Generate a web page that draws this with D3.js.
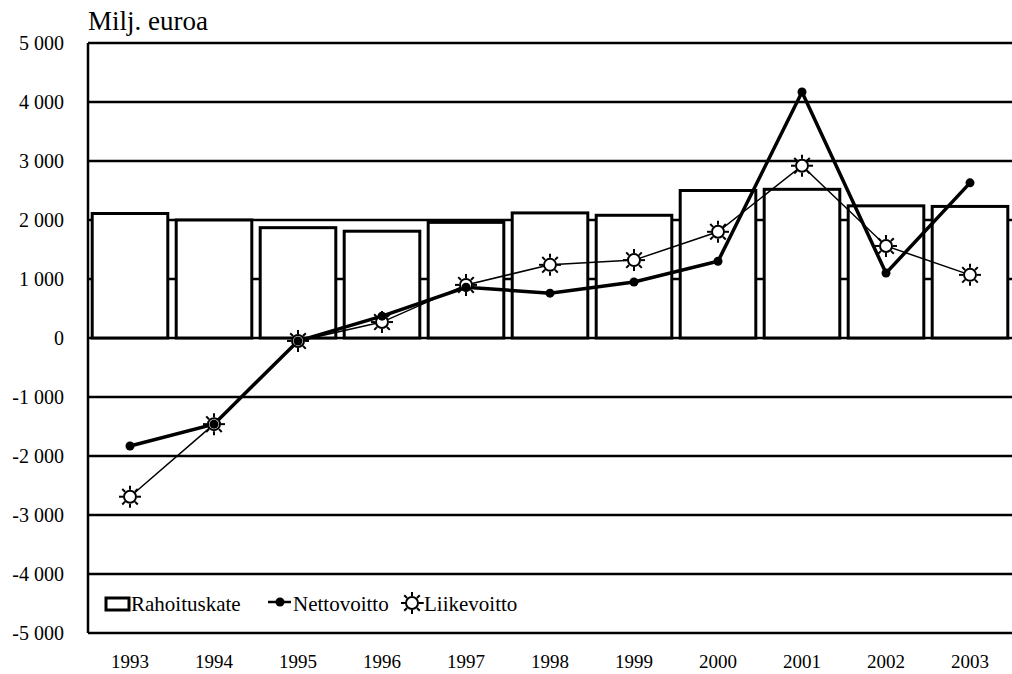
<!DOCTYPE html>
<html>
<head>
<meta charset="utf-8">
<script src="https://cdn.jsdelivr.net/npm/d3@7"></script>
<style>
  body { margin: 0; background: #fff; }
  text { font-family: "Liberation Serif", "Times New Roman", serif; fill: #000; }
</style>
</head>
<body>
<div id="chart"></div>
<script>
// data
var years = ["1993", "1994", "1995", "1996", "1997", "1998", "1999", "2000", "2001", "2002", "2003"];
var rahoituskate = [2110, 2000, 1870, 1810, 1960, 2120, 2080, 2500, 2520, 2240, 2230];
var nettovoitto = [-1830, -1460, -50, 370, 860, 760, 950, 1300, 4170, 1100, 2630];
var liikevoitto = [-2690, -1460, -50, 270, 900, 1240, 1320, 1800, 2920, 1560, 1070];
var yTicks = [5000, 4000, 3000, 2000, 1000, 0, -1000, -2000, -3000, -4000, -5000];

var svgWidth = 1012;
var svgHeight = 674;

var svg = d3.select("#chart")
  .append("svg")
  .attr("width", svgWidth)
  .attr("height", svgHeight);

// scales
var x = d3.scaleBand()
  .domain(years)
  .range([88, 1012])
  .paddingInner(0.1)
  .paddingOuter(0.05);

var y = d3.scaleLinear()
  .domain([-5000, 5000])
  .range([633, 43]);

// "5 000", "-1 000" (plain hyphen like the original)
var fmt = function(d) {
  return d3.format(",")(d).replace(/,/g, " ").replace("\u2212", "-");
};

// title
svg.append("text")
  .attr("x", 88)
  .attr("y", 30)
  .attr("font-size", "27px")
  .text("Milj. euroa");

// gridlines
svg.append("g")
  .selectAll("line")
  .data(yTicks)
  .enter()
  .append("line")
  .attr("x1", 88)
  .attr("x2", 1012)
  .attr("y1", d => y(d))
  .attr("y2", d => y(d))
  .attr("stroke", "#000")
  .attr("stroke-width", 2.5);

// y labels
svg.append("g")
  .selectAll("text")
  .data(yTicks)
  .enter()
  .append("text")
  .attr("x", 64)
  .attr("y", d => y(d))
  .attr("dy", "0.35em")
  .attr("text-anchor", "end")
  .attr("font-size", "20px")
  .text(d => fmt(d));

// left axis line
svg.append("line")
  .attr("x1", 88).attr("x2", 88)
  .attr("y1", y(5000)).attr("y2", y(-5000))
  .attr("stroke", "#000")
  .attr("stroke-width", 2.5);

// bars
svg.append("g")
  .selectAll("rect")
  .data(rahoituskate)
  .enter()
  .append("rect")
  .attr("x", (d, i) => x(years[i]))
  .attr("y", d => y(d))
  .attr("width", x.bandwidth())
  .attr("height", d => y(0) - y(d))
  .attr("fill", "#fff")
  .attr("stroke", "#000")
  .attr("stroke-width", 3);

// x labels
svg.append("g")
  .selectAll("text")
  .data(years)
  .enter()
  .append("text")
  .attr("x", d => x(d) + x.bandwidth() / 2)
  .attr("y", 668)
  .attr("text-anchor", "middle")
  .attr("font-size", "19px")
  .text(d => d);

var cx = (d, i) => x(years[i]) + x.bandwidth() / 2;

// sun marker drawing
function sun(g, r, rOut) {
  g.append("circle")
    .attr("r", r)
    .attr("fill", "#fff")
    .attr("stroke", "#000")
    .attr("stroke-width", 2);
  d3.range(8).forEach(function(k) {
    var a = k * Math.PI / 4;
    g.append("line")
      .attr("x1", Math.cos(a) * (r + 1))
      .attr("y1", Math.sin(a) * (r + 1))
      .attr("x2", Math.cos(a) * rOut)
      .attr("y2", Math.sin(a) * rOut)
      .attr("stroke", "#000")
      .attr("stroke-width", 2);
  });
}

var line = d3.line()
  .x((d, i) => cx(d, i))
  .y(d => y(d));

// Liikevoitto line (thin)
svg.append("path")
  .datum(liikevoitto)
  .attr("d", line)
  .attr("fill", "none")
  .attr("stroke", "#000")
  .attr("stroke-width", 1.5);

// Nettovoitto line (thick)
svg.append("path")
  .datum(nettovoitto)
  .attr("d", line)
  .attr("fill", "none")
  .attr("stroke", "#000")
  .attr("stroke-width", 3.5);

// sun markers
liikevoitto.forEach(function(d, i) {
  var g = svg.append("g")
    .attr("transform", `translate(${cx(d, i)}, ${y(d)})`);
  sun(g, 6, 11);
});

// dots
svg.append("g")
  .selectAll("circle")
  .data(nettovoitto)
  .enter()
  .append("circle")
  .attr("cx", (d, i) => cx(d, i))
  .attr("cy", d => y(d))
  .attr("r", 4.5)
  .attr("fill", "#000");

// legend
var leg = svg.append("g");
leg.append("rect")
  .attr("x", 106).attr("y", 598)
  .attr("width", 23).attr("height", 12)
  .attr("fill", "#fff")
  .attr("stroke", "#000")
  .attr("stroke-width", 3);
leg.append("text")
  .attr("x", 131).attr("y", 611)
  .attr("font-size", "21px")
  .text("Rahoituskate");

leg.append("line")
  .attr("x1", 268).attr("x2", 291)
  .attr("y1", 602).attr("y2", 602)
  .attr("stroke", "#000")
  .attr("stroke-width", 2.5);
leg.append("circle")
  .attr("cx", 280).attr("cy", 602)
  .attr("r", 4.5)
  .attr("fill", "#000");
leg.append("text")
  .attr("x", 293).attr("y", 611)
  .attr("font-size", "21px")
  .text("Nettovoitto");

leg.append("line")
  .attr("x1", 401).attr("x2", 424)
  .attr("y1", 603).attr("y2", 603)
  .attr("stroke", "#000")
  .attr("stroke-width", 1.5);
sun(leg.append("g").attr("transform", "translate(412, 603)"), 6, 11);
leg.append("text")
  .attr("x", 424).attr("y", 611)
  .attr("font-size", "21px")
  .text("Liikevoitto");
</script>
</body>
</html>
